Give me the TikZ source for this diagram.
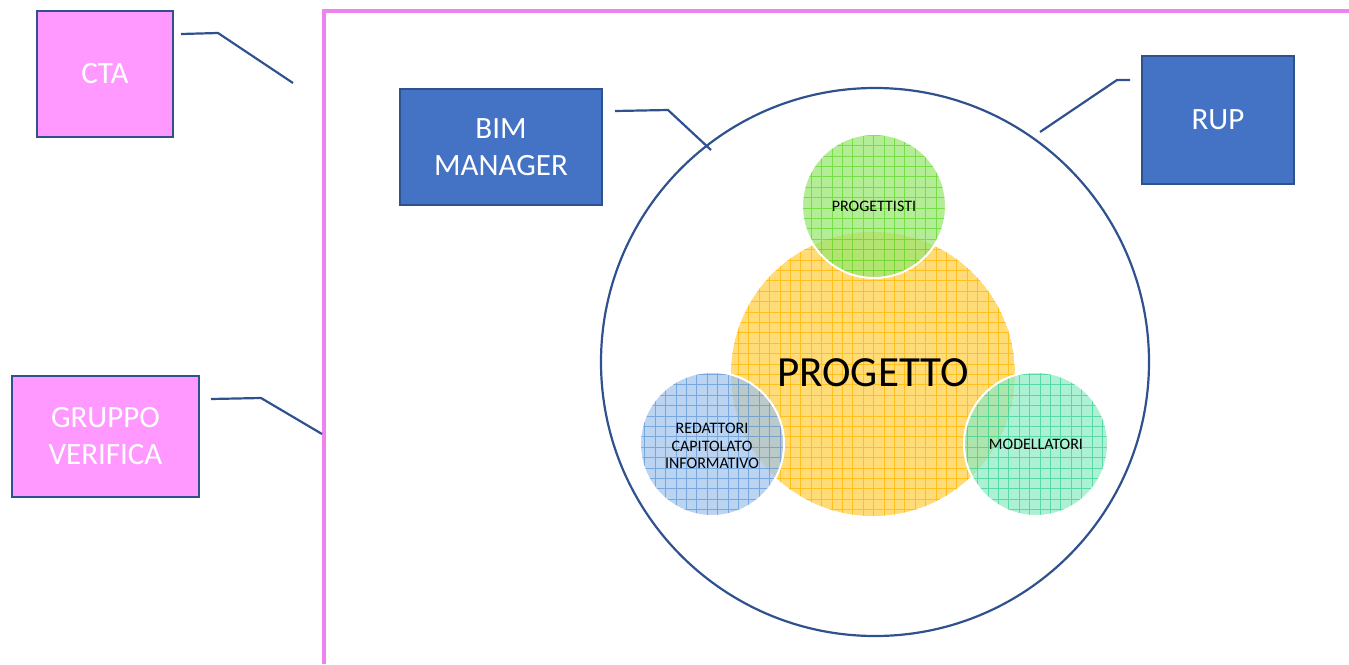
\documentclass[tikz,border=0pt]{standalone}
\usepackage{fontspec}
\setmainfont{Carlito}
\definecolor{connblue}{RGB}{47,82,143}
\definecolor{boxpink}{RGB}{255,153,255}
\definecolor{boxblue}{RGB}{68,114,196}
\definecolor{framepink}{RGB}{238,130,238}
\definecolor{yfill}{RGB}{255,220,120}
\definecolor{yline}{RGB}{255,192,30}
\definecolor{gfill}{RGB}{150,230,110}
\definecolor{gline}{RGB}{95,215,40}
\definecolor{bfill}{RGB}{160,195,235}
\definecolor{bline}{RGB}{95,150,215}
\definecolor{tfill}{RGB}{140,235,195}
\definecolor{tline}{RGB}{55,210,150}
\newcommand{\gridcirc}[6]{%
  \begin{scope}[opacity=#6]
    \clip (#1,#2) circle[radius=#3];
    \fill[#4] (#1,#2) circle[radius=#3];
    \draw[#5, line width=0.9pt, step=10.4pt] (#1-#3-5,#2-#3-5) grid (#1+#3+5,#2+#3+5);
  \end{scope}}
\begin{document}
\begin{tikzpicture}[x=1pt,y=-1pt,
  conn/.style={draw=connblue, line width=2.2pt},
  boxbase/.style={draw=connblue, line width=1.8pt, text=white, align=center, inner sep=0pt,
    font=\fontsize{31}{37}\selectfont},
  pinkbox/.style={boxbase, fill=boxpink},
  bluebox/.style={boxbase, fill=boxblue},
  smalltxt/.style={font=\fontsize{16}{17.5}\selectfont, align=center, text=black}]
\useasboundingbox (0,0) rectangle (1349,664);
% pink frame
\draw[framepink, line width=4pt] (1349,11) -- (324,11) -- (324,664);
% boxes
\node[pinkbox, minimum width=136pt, minimum height=126pt] (cta) at (105,74) {CTA};
\node[pinkbox, minimum width=187pt, minimum height=121pt] (gv) at (105.5,436.5) {GRUPPO\\VERIFICA};
\node[bluebox, minimum width=202pt, minimum height=116pt] (bim) at (501,147) {BIM\\MANAGER};
\node[bluebox, minimum width=152pt, minimum height=128pt] (rup) at (1218,120) {RUP};
% big circle
\node[circle, draw=connblue, line width=2.2pt, minimum size=548pt, inner sep=0pt] (outer) at (875,362) {};
% project circles
\gridcirc{873}{374}{142}{yfill}{yline}{1}
\gridcirc{874}{206}{72}{gfill}{gline}{0.72}
\gridcirc{712}{444}{72}{bfill}{bline}{0.72}
\gridcirc{1036}{444}{72}{tfill}{tline}{0.72}
\draw[white, line width=2pt] (874,206) circle[radius=72];
\draw[white, line width=2pt] (712,444) circle[radius=72];
\draw[white, line width=2pt] (1036,444) circle[radius=72];
% labels
\node[font=\fontsize{43}{48}\selectfont, text=black] (prog) at (873,373) {PROGETTO};
\node[smalltxt] (pgt) at (874,206) {PROGETTISTI};
\node[smalltxt] (red) at (712,446) {REDATTORI\\CAPITOLATO\\INFORMATIVO};
\node[smalltxt] (mod) at (1036,444) {MODELLATORI};
% connectors
\coordinate (ctaS) at (181,34);
\coordinate (ctaE) at (293,83);
\draw[conn] (ctaS) -- (218,33) -- (ctaE);
\coordinate (gvS) at (211,399);
\coordinate (gvE) at (322,434);
\draw[conn] (gvS) -- (261,398) -- (gvE);
\coordinate (bimS) at (615,111);
\coordinate (bimE) at (711,150);
\draw[conn] (bimS) -- (668,110) -- (bimE);
\coordinate (rupS) at (1130,80);
\coordinate (rupE) at (1040,132);
\draw[conn] (rupS) -- (1117,80) -- (rupE);
\end{tikzpicture}
\end{document}
